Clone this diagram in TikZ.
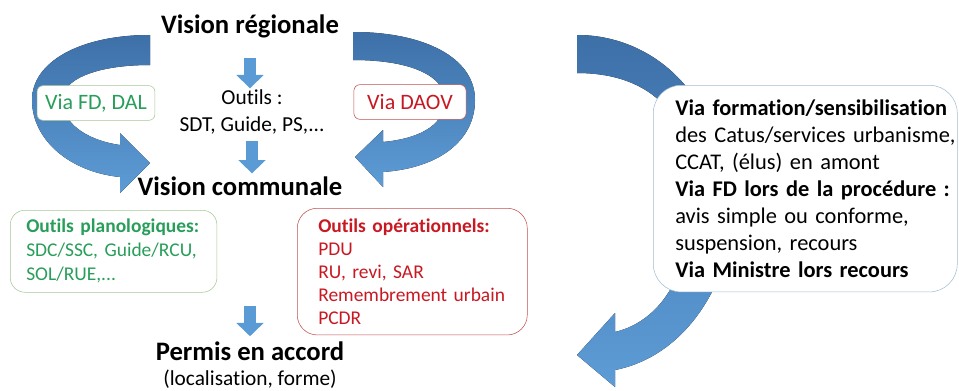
\documentclass[tikz,border=0pt]{standalone}
\usepackage{fontspec}
\setmainfont{Carlito}[Ligatures=NoCommon]
\usepackage{xcolor}
\usetikzlibrary{arrows.meta,positioning,calc}
\definecolor{bandtop}{RGB}{62,112,168}
\definecolor{bandbot}{RGB}{93,156,214}
\definecolor{arrblue}{RGB}{91,155,213}
\definecolor{plangreen}{RGB}{40,158,90}
\definecolor{planedge}{RGB}{165,200,150}
\definecolor{operred}{RGB}{200,25,35}
\definecolor{operedge}{RGB}{192,80,77}
\definecolor{viaedge}{RGB}{160,190,212}

\begin{document}
\begin{tikzpicture}[x=0.75pt,y=-0.75pt,every node/.style={inner sep=0pt},
  title/.style={font=\fontsize{20}{24}\selectfont\bfseries},
  band/.style={top color=bandtop,bottom color=bandbot,draw=none},
  blockarr/.style={draw=arrblue,line width=9pt,-{Triangle[width=20pt,length=10pt]}},
  viabox/.style={draw,rounded corners=4.5pt,fill=white,font=\fontsize{16.5}{20}\selectfont,minimum height=26pt,inner xsep=6pt},
  toolbox/.style={draw,fill=white,align=left,anchor=north west,font=\fontsize{14.6}{18}\selectfont}]
\useasboundingbox (0,0) rectangle (959,390);
% curved arrows
\fill[band] (150,35) .. controls (80,35) and (32,62) .. (32,100) .. controls (32,140) and (70,172) .. (120,177)
  -- (120,193) -- (150,163) -- (120,133) -- (120,145) .. controls (85,140) and (62,122) .. (62,100)
  .. controls (62,80) and (95,65) .. (150,65) -- cycle;
\fill[band] (353,32) .. controls (425,32) and (475,58) .. (475,100) .. controls (475,140) and (440,168) .. (383,172)
  -- (383,187) -- (355,157) -- (383,130) -- (383,142) .. controls (425,138) and (445,122) .. (445,100)
  .. controls (445,78) and (415,60) .. (353,60) -- cycle;
\fill[band] (577,35) .. controls (655,35) and (718,98) .. (718,176) .. controls (718,215) and (731,254) .. (713,290)
  .. controls (690,335) and (655,362) .. (615,370) -- (615,387) -- (577,355) -- (615,313) -- (615,332)
  .. controls (640,326) and (658,310) .. (670,290) .. controls (690,255) and (690,160) .. (680,130)
  .. controls (665,95) and (630,73) .. (577,73) -- cycle;

\node[title,anchor=base] (vr) at (250,33) {Vision régionale};
\node[align=center,font=\fontsize{16}{20}\selectfont] (outils) at (252,112) {Outils :\\SDT, Guide, PS,...};
\node[title,anchor=base] (vc) at (240,195) {Vision communale};
\node[align=center,font=\fontsize{16}{18.5}\selectfont] (permis) at (250,365)
  {{\fontsize{20}{24}\selectfont\bfseries Permis en accord}\\(localisation, forme)};

\node[viabox,draw=planedge,text=plangreen] (fd) at (96,103) {Via FD, DAL};
\node[viabox,draw=operedge,text=operred,inner xsep=10pt] (daov) at (410,102) {Via DAOV};

\node[toolbox,draw=planedge,text=plangreen,rounded corners=11pt,text width=131pt,inner xsep=12pt,minimum height=61.5pt] (plano) at (10,210)
  {\textbf{Outils planologiques:}\\SDC/SSC, Guide/RCU,\\SOL/RUE,...};
\node[toolbox,draw=operedge,text=operred,rounded corners=15pt,text width=141pt,inner xsep=15.75pt,minimum height=95pt,
  font=\fontsize{14.6}{17.25}\selectfont] (oper) at (297,208)
  {\textbf{Outils opérationnels:}\\PDU\\RU, revi, SAR\\Remembrement urbain\\PCDR};
\node[toolbox,draw=viaedge,rounded corners=21pt,text width=195pt,inner xsep=16.5pt,minimum height=155pt,
  font=\fontsize{16.8}{20.25}\selectfont] (via) at (653,85)
  {\mbox{\textbf{Via formation/sensibilisation}}\\\mbox{des Catus/services urbanisme,}\\CCAT, (élus) en amont\\
   \mbox{\textbf{Via FD lors de la procédure :}}\\avis simple ou conforme,\\suspension, recours\\\textbf{Via Ministre lors recours}};

\draw[blockarr,shorten <=15pt,shorten >=1pt] (vr.south) -- (vr.south |- outils.north);
\draw[blockarr,shorten <=5pt,shorten >=2pt] (outils.south) -- (outils.south |- vc.north);
\draw[blockarr,shorten <=83pt,shorten >=4pt] (vc.south -| permis.north) -- (permis.north);
\end{tikzpicture}
\end{document}
